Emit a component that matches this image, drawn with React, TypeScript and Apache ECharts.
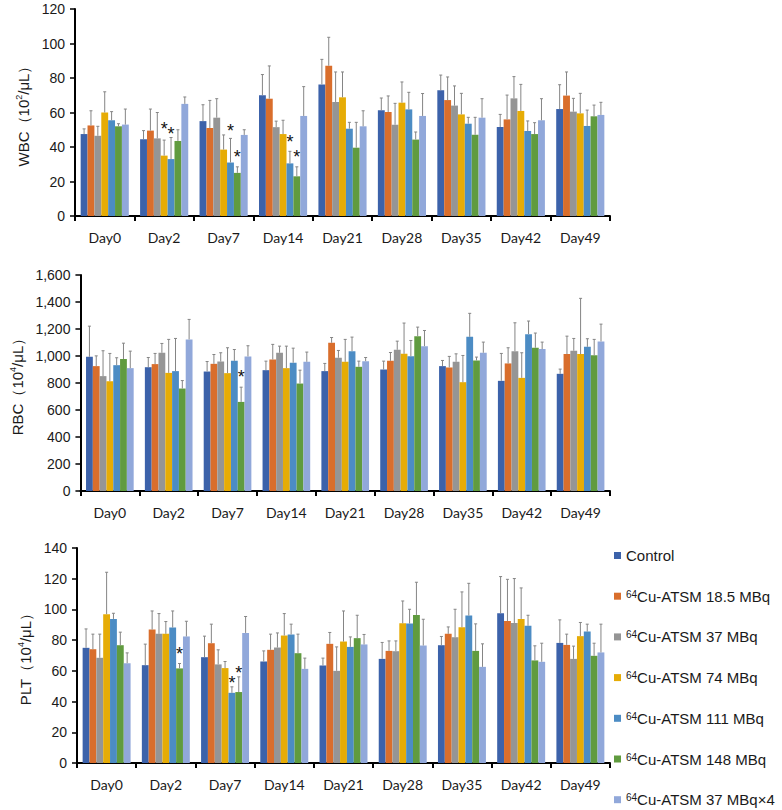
import React, { useEffect, useRef } from "react";
import * as echarts from "echarts";

const days = ["Day0", "Day2", "Day7", "Day14", "Day21", "Day28", "Day35", "Day42", "Day49"];
const groupNames = [
  "Control",
  "64Cu-ATSM 18.5 MBq",
  "64Cu-ATSM 37 MBq",
  "64Cu-ATSM 74 MBq",
  "64Cu-ATSM 111 MBq",
  "64Cu-ATSM 148 MBq",
  "64Cu-ATSM 37 MBq×4",
];
const colors = ["#3C62AA", "#D96E2C", "#959595", "#E6AC06", "#4C8CC4", "#609B3F", "#91A8DA"];

// WBC (10^2/uL): rows = groups, columns = days
const wbcMean = [
  [47.5, 44.5, 55, 70, 76.3, 61.3, 72.9, 51.6, 62],
  [52.5, 49.5, 51, 68, 87.1, 60.3, 67.2, 56, 69.8],
  [46.5, 45, 57, 51.5, 66.1, 52.9, 64, 68.2, 60.5],
  [60, 35, 38.5, 47.5, 68.8, 65.7, 58.9, 60.9, 59.5],
  [55.5, 33, 31, 30.5, 50.6, 61.8, 53.5, 49.3, 52.2],
  [52, 43.5, 25, 23, 39.6, 44.3, 47.1, 47.5, 57.8],
  [53, 65, 47, 58, 52, 58, 57, 55.5, 58.6],
];
const wbcSD = [
  [3, 5, 9.5, 12, 14.5, 7.1, 8.8, 7.3, 14.1],
  [8.5, 12.5, 16, 19, 16.5, 9.3, 13.4, 14.1, 13.7],
  [5.5, 15, 11, 3.5, 17.4, 12.4, 11.4, 12.6, 7.7],
  [12, 9, 8.5, 8, 14.7, 12, 12.2, 15.4, 11.6],
  [5, 12.5, 14, 7, 3.7, 9.9, 3.7, 5.8, 9.2],
  [1.5, 6.5, 3.5, 5.5, 14.7, 4.4, 10.1, 6.6, 6.5],
  [9, 4, 3, 17, 9, 13, 11, 12.5, 7.3],
];
// RBC (10^4/uL)
const rbcMean = [
  [994, 917, 885, 895, 888, 900, 925, 816, 868],
  [925, 940, 942, 974, 1098, 964, 915, 945, 1014],
  [851, 1024, 959, 1024, 987, 1046, 957, 1036, 1039],
  [813, 875, 873, 910, 957, 1016, 806, 838, 1014],
  [932, 888, 964, 950, 1036, 999, 1142, 1162, 1068],
  [977, 759, 660, 796, 920, 1147, 967, 1061, 1006],
  [910, 1123, 997, 957, 962, 1073, 1024, 1051, 1108],
];
const rbcSD = [
  [227, 72, 74, 67, 57, 62, 42, 203, 35],
  [76, 79, 69, 112, 39, 62, 82, 116, 133],
  [188, 69, 65, 49, 54, 64, 59, 210, 91],
  [206, 248, 188, 163, 166, 228, 198, 186, 413],
  [55, 242, 84, 108, 104, 116, 174, 97, 60],
  [118, 59, 109, 99, 42, 67, 25, 109, 117],
  [126, 148, 79, 72, 27, 116, 79, 52, 128],
];
// PLT (10^4/uL)
const pltMean = [
  [75, 63.7, 68.9, 66.1, 63.5, 67.8, 76.7, 97.5, 78.2],
  [74.1, 86.9, 78, 73.7, 77.6, 73, 84.1, 92.5, 76.9],
  [68.5, 84.1, 64.2, 75.2, 60, 72.8, 81.9, 91.2, 67.8],
  [96.9, 84.1, 61.8, 83, 79.1, 91, 88.4, 93.8, 82.6],
  [93.8, 88.2, 45.7, 83.7, 75.6, 90.8, 96, 89.3, 85.6],
  [76.7, 61.6, 46.2, 71.5, 81.3, 96.4, 73, 66.8, 69.8],
  [65, 82.4, 84.7, 61.3, 77.2, 76.5, 62.6, 65.9, 72],
];
const pltSD = [
  [12.3, 13.7, 13.7, 6.9, 4.8, 10.7, 5.7, 23.9, 15],
  [9.8, 12.1, 12.4, 10.2, 7.4, 6.5, 4.5, 27.1, 7],
  [15.4, 13.2, 9.5, 9.5, 15.6, 6.7, 18.2, 28.9, 8.3],
  [27.3, 8, 4.3, 14.3, 19.9, 14.5, 23, 20.2, 8.9],
  [3.7, 10.8, 3.9, 6.7, 6.5, 9.3, 21, 6.9, 4.8],
  [8.5, 3.2, 9.9, 12.4, 14.9, 21.3, 17.6, 9.5, 8.2],
  [6.7, 9.9, 10.7, 7, 6.5, 17.1, 15, 12.1, 18.4],
];
// significance marks: [dayIndex, groupIndex, y value]
const wbcStars = [[1, 3, 52.8], [1, 4, 49.9], [2, 4, 51.8], [2, 5, 36.3], [3, 4, 45.4], [3, 5, 36.3]];
const rbcStars = [[2, 5, 875]];
const pltStars = [[1, 5, 73.3], [2, 4, 55], [2, 5, 61.5]];

const GAP = 0.19;
const FONT = "'Liberation Sans', Arial, sans-serif";

function barX(api: any, cat: number, s: number) {
  const band = api.size([1, 0])[0];
  const total = band * (1 - GAP);
  const barW = total / groupNames.length;
  return api.coord([cat, 0])[0] - total / 2 + (s + 0.5) * barW;
}

export default function App() {
  const ref = useRef<HTMLDivElement>(null);
  useEffect(() => {
    if (!ref.current) return;
    const chart = echarts.init(ref.current, null, { renderer: "svg" });
    const panels = [
      { mean: wbcMean, sd: wbcSD, stars: wbcStars, max: 120, interval: 20, name: "{t|WBC（10}{s|2}{t|/μL）}", grid: { left: 75, top: 9, width: 535, height: 207 } },
      { mean: rbcMean, sd: rbcSD, stars: rbcStars, max: 1600, interval: 200, name: "{t|RBC（10}{s|4}{t|/μL）}", grid: { left: 76, top: 275, width: 534, height: 216 } },
      { mean: pltMean, sd: pltSD, stars: pltStars, max: 140, interval: 20, name: "{t|PLT（10}{s|4}{t|/μL）}", grid: { left: 77, top: 548, width: 533, height: 215 } },
    ];
    const grid: any[] = [];
    const xAxis: any[] = [];
    const yAxis: any[] = [];
    const series: any[] = [];
    panels.forEach((p, pi) => {
      grid.push(p.grid);
      xAxis.push({
        type: "category",
        gridIndex: pi,
        data: days,
        axisLine: { lineStyle: { color: "#000", width: 2 } },
        axisTick: { show: true, length: 5, lineStyle: { color: "#000", width: 2 } },
        axisLabel: { fontFamily: "Lato, sans-serif", fontSize: 14, color: "#1a1a1a", margin: 14 },
      });
      yAxis.push({
        type: "value",
        gridIndex: pi,
        min: 0,
        max: p.max,
        interval: p.interval,
        splitLine: { show: false },
        axisLine: { show: true, lineStyle: { color: "#000", width: 2 } },
        axisTick: { show: true, length: 5, lineStyle: { color: "#000", width: 1.5 } },
        axisLabel: {
          fontFamily: FONT,
          fontSize: 14,
          color: "#1a1a1a",
          margin: 10,
          formatter: (v: number) => v.toLocaleString("en-US"),
        },
        name: p.name,
        nameLocation: "middle",
        nameRotate: 90,
        nameGap: 43,
        nameTextStyle: {
          rich: {
            t: { fontFamily: FONT, fontSize: 15, color: "#1a1a1a", lineHeight: 18 },
            s: { fontFamily: FONT, fontSize: 9, color: "#1a1a1a", verticalAlign: "top", lineHeight: 10 },
          },
        },
      });
      groupNames.forEach((g, gi) => {
        series.push({
          type: "bar",
          name: g,
          xAxisIndex: pi,
          yAxisIndex: pi,
          data: p.mean[gi],
          itemStyle: { color: colors[gi] },
          barGap: "0%",
          barCategoryGap: GAP * 100 + "%",
        });
      });
      const errData: number[][] = [];
      p.mean.forEach((row, gi) => row.forEach((m, di) => errData.push([di, gi, m + p.sd[gi][di], m])));
      series.push({
        type: "custom",
        xAxisIndex: pi,
        yAxisIndex: pi,
        data: errData,
        encode: { x: 0, y: [2, 3] },
        z: 5,
        renderItem: (params: any, api: any) => {
          const cat = api.value(0);
          const s = api.value(1);
          const cx = barX(api, cat, s);
          const y1 = api.coord([cat, api.value(3)])[1];
          const y2 = api.coord([cat, api.value(2)])[1];
          const st = { stroke: "#858585", lineWidth: 1 };
          return {
            type: "group",
            children: [
              { type: "line", shape: { x1: cx, y1, x2: cx, y2 }, style: st },
              { type: "line", shape: { x1: cx - 1.5, y1: y2, x2: cx + 1.5, y2 }, style: st },
            ],
          };
        },
      });
      series.push({
        type: "custom",
        xAxisIndex: pi,
        yAxisIndex: pi,
        data: p.stars,
        encode: { x: 0, y: 2 },
        z: 6,
        renderItem: (params: any, api: any) => {
          const cat = api.value(0);
          const cx = barX(api, cat, api.value(1));
          const cy = api.coord([cat, api.value(2)])[1];
          return {
            type: "text",
            x: cx,
            y: cy + 4,
            style: { text: "*", fontSize: 18, fontFamily: FONT, fill: "#111", align: "center", verticalAlign: "middle" },
          };
        },
      });
    });
    const legend = groupNames.map((g, i) => ({
      data: [g],
      orient: "vertical",
      left: 614,
      top: 548 + i * 40.7,
      padding: 0,
      icon: "rect",
      itemWidth: 7,
      itemHeight: 7,
      textStyle: {
        rich: {
          n: { fontFamily: FONT, fontSize: 15, color: "#1a1a1a", lineHeight: 14 },
          s: { fontFamily: FONT, fontSize: 10, color: "#1a1a1a", verticalAlign: "top", lineHeight: 9 },
        },
      },
      formatter: (name: string) =>
        name.startsWith("64") ? "{s|64}{n|" + name.slice(2) + "}" : "{n|" + name + "}",
    }));
    chart.setOption({
      animation: false,
      backgroundColor: "#fff",
      grid,
      xAxis,
      yAxis,
      series,
      legend,
    });
    return () => chart.dispose();
  }, []);
  return <div ref={ref} style={{ position: "absolute", left: 0, top: 0, width: 782, height: 810 }} />;
}
